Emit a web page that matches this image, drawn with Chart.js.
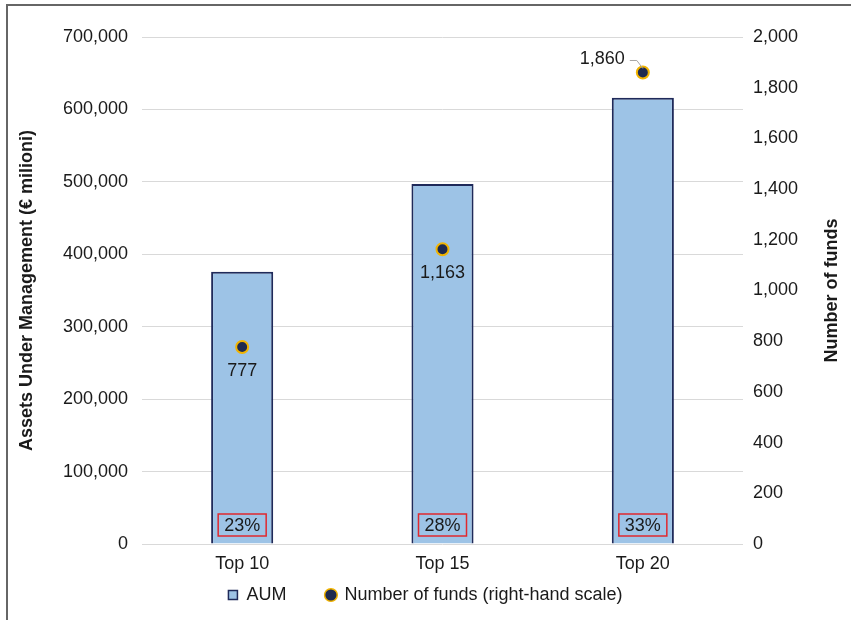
<!DOCTYPE html>
<html>
<head>
<meta charset="utf-8">
<script src="https://cdn.jsdelivr.net/npm/chart.js@4/dist/chart.umd.min.js"></script>
<style>
  html, body { margin: 0; padding: 0; background: #fff; }
  #wrap { position: relative; width: 851px; height: 620px; }
  #frame { position: absolute; left: 6px; top: 4px; right: -10px; bottom: -10px; border-left: 2px solid #666; border-top: 2px solid #666; pointer-events: none; }
</style>
</head>
<body>
<div id="wrap">
  <canvas id="chart" width="851" height="620"></canvas>
  <div id="frame"></div>
</div>
<script>
// ── DATA ────────────────────────────────────────────────────────────────────
const categories = ['Top 10', 'Top 15', 'Top 20'];
const aum = [376000, 497000, 616000];
const funds = [777, 1163, 1860];
const shares = ['23%', '28%', '33%'];

const FONT = '"Liberation Sans", Arial, sans-serif';
const fmt = v => Number(v).toLocaleString('en-US');

// share boxes at the foot of each bar
const shareBoxes = {
  id: 'shareBoxes',
  afterDatasetsDraw(chart) {
    const ctx = chart.ctx;
    const meta = chart.getDatasetMeta(1);
    const yb = chart.scales.y.getPixelForValue(0);
    ctx.save();
    ctx.font = '18px ' + FONT;
    ctx.textAlign = 'center';
    ctx.textBaseline = 'middle';
    meta.data.forEach((bar, i) => {
      const w = 48, h = 22;
      ctx.strokeStyle = '#e0282e';
      ctx.lineWidth = 1.5;
      ctx.strokeRect(bar.x - w / 2, yb - 8 - h, w, h);
      ctx.fillStyle = '#1a1a1a';
      ctx.fillText(shares[i], bar.x, yb - 8 - h / 2 + 1);
    });
    ctx.restore();
  }
};

// labels for the fund counts
const fundLabels = {
  id: 'fundLabels',
  afterDatasetsDraw(chart) {
    const ctx = chart.ctx;
    const meta = chart.getDatasetMeta(0);
    ctx.save();
    ctx.font = '18px ' + FONT;
    ctx.fillStyle = '#1a1a1a';
    ctx.textBaseline = 'middle';
    meta.data.forEach((pt, i) => {
      if (i === 2) {
        ctx.textAlign = 'right';
        ctx.fillText(fmt(funds[i]), pt.x - 18, pt.y - 13);
        ctx.strokeStyle = '#a6a6a6';
        ctx.lineWidth = 1;
        ctx.beginPath();
        ctx.moveTo(pt.x - 13, pt.y - 12);
        ctx.lineTo(pt.x - 6, pt.y - 12);
        ctx.lineTo(pt.x, pt.y - 4);
        ctx.stroke();
      } else {
        ctx.textAlign = 'center';
        ctx.fillText(fmt(funds[i]), pt.x, pt.y + 24);
      }
    });
    // right axis title, reading upwards
    const r = chart.scales.y1;
    ctx.font = 'bold 18px ' + FONT;
    ctx.textAlign = 'center';
    ctx.translate(832, (r.top + r.bottom) / 2);
    ctx.rotate(-Math.PI / 2);
    ctx.fillText('Number of funds', 0, 0);
    ctx.restore();
  }
};

new Chart(document.getElementById('chart').getContext('2d'), {
  data: {
    labels: categories,
    datasets: [
      {
        type: 'line', label: 'Number of funds (right-hand scale)', data: funds, yAxisID: 'y1',
        showLine: false, pointRadius: 6, pointHoverRadius: 6, pointBorderWidth: 2,
        pointBackgroundColor: '#1f2a4f', pointBorderColor: '#f2b400',
        backgroundColor: '#1f2a4f', borderColor: '#f2b400', order: 0
      },
      {
        type: 'bar', label: 'AUM', data: aum, yAxisID: 'y',
        backgroundColor: '#9dc3e6', borderColor: '#1f2a5a', borderWidth: 2,
        barPercentage: 0.31, categoryPercentage: 1, order: 1
      }
    ]
  },
  options: {
    responsive: false, animation: false,
    layout: { padding: { top: 37, bottom: 6, left: 0, right: 0 } },
    plugins: {
      tooltip: { enabled: false },
      legend: {
        position: 'bottom',
        labels: {
          usePointStyle: true, color: '#1a1a1a', font: { family: FONT, size: 18 }, padding: 10,
          generateLabels() {
            return [
              { text: 'AUM      ', datasetIndex: 1, pointStyle: 'rect', fillStyle: '#9dc3e6', strokeStyle: '#1f2a5a', lineWidth: 1.5, fontColor: '#1a1a1a' },
              { text: 'Number of funds (right-hand scale)', datasetIndex: 0, pointStyle: 'circle', fillStyle: '#1f2a4f', strokeStyle: '#f2b400', lineWidth: 1.5, fontColor: '#1a1a1a' }
            ];
          },
          boxWidth: 9, boxHeight: 9
        }
      }
    },
    scales: {
      x: {
        grid: { display: false }, border: { display: false },
        ticks: { color: '#1a1a1a', font: { family: FONT, size: 18 }, padding: 1 },
        afterFit(s) { s.height = 32; }
      },
      y: {
        position: 'left', min: 0, max: 700000,
        ticks: { stepSize: 100000, color: '#1a1a1a', font: { family: FONT, size: 18 }, padding: 14, callback: v => fmt(v) },
        grid: { color: '#d9d9d9', drawTicks: false }, border: { display: false },
        title: { display: true, text: 'Assets Under Management (€ milioni)', color: '#1a1a1a', font: { family: FONT, size: 18, weight: 'bold' }, padding: { top: 16 } },
        afterFit(s) { s.width = 142; }
      },
      y1: {
        position: 'right', min: 0, max: 2000,
        ticks: { stepSize: 200, color: '#1a1a1a', font: { family: FONT, size: 18 }, padding: 10, callback: v => fmt(v) },
        grid: { drawOnChartArea: false, drawTicks: false }, border: { display: false },
        afterFit(s) { s.width = 108; }
      }
    }
  },
  plugins: [shareBoxes, fundLabels]
});
</script>
</body>
</html>
